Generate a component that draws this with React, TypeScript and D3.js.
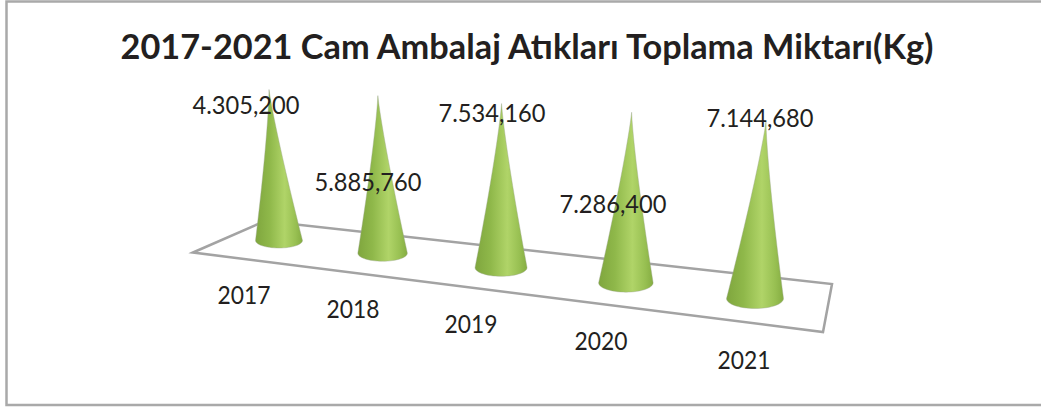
import * as d3 from 'd3';

const title = '2017-2021 Cam Ambalaj Atıkları Toplama Miktarı(Kg)';
const years = ['2017', '2018', '2019', '2020', '2021'];
const amounts = [4305.2, 5885.76, 7534.16, 7286.4, 7144.68];

const width = 1041;
const height = 408;

// Turkish number format, as printed on the labels: 4.305,200
const turkish = d3.formatLocale({
  decimal: ',',
  thousands: '.',
  grouping: [3],
  currency: ['', ' TL'],
});
const formatAmount = turkish.format(',.3f');

// The picture is a 3D chart in perspective: every cone is drawn about as tall,
// and size and place only change with depth, not with the value.
const depth = d3.scalePoint<string>().domain(years).range([0, 1]);
const baseX = d3.scalePow().exponent(1.1).domain([0, 1]).range([279, 755]);
const baseY = d3.scalePow().exponent(1.1).domain([0, 1]).range([240.5, 298.5]);
const radiusX = d3.scaleLinear().domain([0, 1]).range([23.5, 28.5]);
const radiusY = d3.scaleLinear().domain([0, 1]).range([7.5, 10]);
const coneHeight = d3.scaleLinear().domain([0, 1]).range([151, 177]);
const tipLean = d3.scaleLinear().domain([0, 1]).range([-10, 11]);
// cone sides are slightly hollow in the picture, not straight
const flare = d3.scalePow().exponent(1.2).domain([0, 1]).range([0, 1]);

const floor: [number, number][] = [
  [193, 252.5],
  [265, 221],
  [832, 284],
  [823, 332],
];

const valueLabelAt: [number, number][] = [
  [246, 105],
  [368, 182],
  [492, 113],
  [613, 204],
  [760, 118],
];
const yearLabelAt: [number, number][] = [
  [244, 295.5],
  [353, 309.5],
  [471, 324.5],
  [601, 341],
  [744, 360],
];

const line = d3.line();

function conePath(year: string) {
  const t = depth(year) as number;
  const cx = baseX(t);
  const cy = baseY(t);
  const rx = radiusX(t);
  const ry = radiusY(t);
  const tipX = cx + tipLean(t);
  const tipY = cy - coneHeight(t);
  const steps = d3.range(0, 1.001, 0.05);
  const side = (sign: number) =>
    steps.map((f): [number, number] => [
      tipX + (cx - tipX) * f + sign * rx * flare(f),
      tipY + (cy - tipY) * f,
    ]);
  const arc = d3.range(180, -1, -6).map((a): [number, number] => {
    const r = (a * Math.PI) / 180;
    return [cx + rx * Math.cos(r), cy + ry * Math.sin(r)];
  });
  return line([...side(-1), ...arc, ...side(1).reverse()]) + 'Z';
}

export default function App() {
  const font = 'Lato, sans-serif';
  const ink = '#231f20';
  return (
    <svg
      width={width}
      height={height}
      style={{ position: 'absolute', left: 0, top: 0 }}
    >
      <defs>
        <linearGradient id="cone" x1="0" x2="1" y1="0" y2="0">
          <stop offset="0" stopColor="#7fa63e" />
          <stop offset="0.3" stopColor="#8fb84a" />
          <stop offset="0.62" stopColor="#b0d468" />
          <stop offset="0.85" stopColor="#98c052" />
          <stop offset="1" stopColor="#85ad42" />
        </linearGradient>
        <filter id="soft" x="-10%" y="-10%" width="120%" height="120%">
          <feGaussianBlur stdDeviation="0.5" />
        </filter>
      </defs>
      <rect width={width} height={height} fill="#fff" />
      <path
        d={`M${width},1.5H6.5V405H${width}`}
        fill="none"
        stroke="#a9a9a9"
        strokeWidth={2.5}
      />
      <text
        x={527}
        y={58.5}
        textAnchor="middle"
        textLength={813}
        lengthAdjust="spacingAndGlyphs"
        fontFamily={font}
        fontWeight={700}
        fontSize={34}
        fill={ink}
      >
        {title}
      </text>
      <path
        d={line(floor) + 'Z'}
        fill="none"
        stroke="#a3a3a3"
        strokeWidth={2.5}
        filter="url(#soft)"
      />
      {years.map((year) => (
        <path
          key={year}
          d={conePath(year)}
          fill="url(#cone)"
          stroke="#9aa58c"
          strokeOpacity={0.5}
          strokeWidth={0.8}
        />
      ))}
      {amounts.map((amount, i) => (
        <text
          key={years[i]}
          x={valueLabelAt[i][0]}
          y={valueLabelAt[i][1]}
          dy="0.35em"
          textAnchor="middle"
          textLength={107}
          lengthAdjust="spacingAndGlyphs"
          fontFamily={font}
          fontSize={25}
          fill={ink}
        >
          {formatAmount(amount)}
        </text>
      ))}
      {years.map((year, i) => (
        <text
          key={year}
          x={yearLabelAt[i][0]}
          y={yearLabelAt[i][1]}
          dy="0.35em"
          textAnchor="middle"
          textLength={53}
          lengthAdjust="spacingAndGlyphs"
          fontFamily={font}
          fontSize={25}
          fill={ink}
        >
          {year}
        </text>
      ))}
    </svg>
  );
}
